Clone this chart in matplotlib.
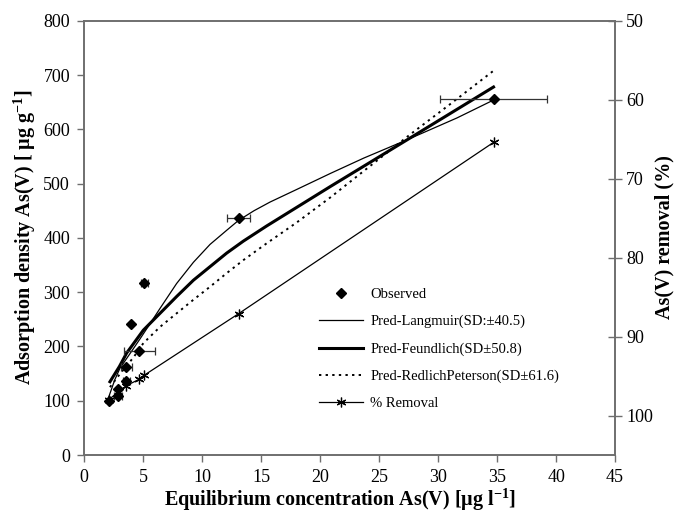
"""
Adsorption isotherm of As(V): observed data, model predictions and % removal
"""

import matplotlib
matplotlib.use("Agg")
import numpy as np
import matplotlib.pyplot as plt
from matplotlib.lines import Line2D

# observed adsorption density with horizontal error bars
concObs = [2.1, 2.9, 2.9, 3.6, 3.6, 4.0, 4.7, 5.1, 13.1, 34.7]
qObs = [99, 109, 122, 137, 162, 241, 192, 316, 437, 655]
concErr = [0.0, 0.35, 0.0, 0.3, 0.5, 0.0, 1.3, 0.3, 1.0, 4.5]

# model curves
langX = [2.1, 2.6, 3.05, 4.0, 4.75, 5.6, 6.44, 7.85, 9.27, 10.68, 12.09, 13.08, 14.4,
         15.76, 18.0, 20.9, 23.7, 27.4, 31.6, 34.7]
langY = [107, 138, 160, 190, 214, 242, 270, 316, 355, 388, 414, 432, 450,
         466, 489, 519, 547, 581, 621, 654]

freuX = [2.2, 3.0, 3.62, 5.03, 6.44, 7.85, 9.27, 10.68, 12.09, 13.5, 15.48, 20.9, 27.4, 34.7]
freuY = [135, 163, 188, 230, 261, 292, 322, 347, 372, 394, 422, 495, 581, 678]

rpX = [2.2, 3.0, 4.2, 5.03, 6.44, 7.85, 9.27, 10.68, 12.09, 13.5, 15.48, 18.0, 20.9,
       23.4, 27.6, 31.0, 34.7]
rpY = [125, 148, 180, 206, 236, 261, 286, 310, 335, 359, 390, 428, 475,
       518, 590, 646, 708]

# percentage removal (right axis)
remX = [2.1, 2.9, 3.6, 4.7, 5.1, 13.1, 34.7]
remY = [98.0, 97.0, 96.2, 95.4, 94.9, 87.1, 65.4]

xTicks = [0, 5, 10, 15, 20, 25, 30, 35, 40, 45]
yTicks = [0, 100, 200, 300, 400, 500, 600, 700, 800]
y2Ticks = [50, 60, 70, 80, 90, 100]


def makePlot():
    plt.rcParams['font.family'] = ['Liberation Serif', 'DejaVu Serif']
    plt.rcParams['mathtext.fontset'] = 'custom'
    plt.rcParams['mathtext.rm'] = 'Liberation Serif'
    plt.rcParams['mathtext.bf'] = 'Liberation Serif:bold'

    fig = plt.figure(figsize=(6.74, 5.2), dpi=100)
    ax = fig.add_axes([0.1246, 0.125, 0.788, 0.835])
    ax2 = ax.twinx()

    frameCol = '#6e6e6e'

    # data and models
    ax.errorbar(concObs, qObs, xerr=concErr, fmt='D', color='black', ms=5,
                ecolor='#333333', elinewidth=0.9, capsize=3, capthick=0.9, zorder=5)
    lLang, = ax.plot(langX, langY, color='black', lw=0.9)
    lFreu, = ax.plot(freuX, freuY, color='black', lw=2.2)
    lRp, = ax.plot(rpX, rpY, color='black', lw=1.4, linestyle=(0, (1.2, 2.2)))
    lRem, = ax2.plot(remX, remY, color='black', lw=0.9, marker=(6, 2, 0), ms=7, mew=0.9)

    ax.set_xlim(0, 45)
    ax.set_ylim(0, 800)
    ax2.set_ylim(105, 50)

    ax.set_xticks(xTicks)
    ax.set_yticks(yTicks)
    ax2.set_yticks(y2Ticks)

    ax.tick_params(axis='both', direction='out', length=5, width=1,
                   color=frameCol, labelsize=13, pad=5)
    ax2.tick_params(axis='y', direction='inout', length=10, width=1,
                    color=frameCol, labelsize=13, pad=3)
    for a in (ax, ax2):
        for s in a.spines.values():
            s.set_color(frameCol)
            s.set_linewidth(1.2)

    fig.text(340 / 674, 1 - 500 / 520,
             'Equilibrium concentration As(V) [\u03bcg l$^{\\mathbf{-1}}$]',
             fontsize=14.5, fontweight='bold', ha='center', va='center')
    fig.text(25 / 674, 1 - 237 / 520,
             'Adsorption density As(V) [ \u03bcg g$^{\\mathbf{-1}}$]',
             fontsize=14.5, fontweight='bold', ha='center', va='center', rotation=90)
    fig.text(664 / 674, 1 - 237 / 520, 'As(V) removal (%)',
             fontsize=14.5, fontweight='bold', ha='center', va='center', rotation=90)

    # legend in the original order
    hObs = Line2D([], [], color='black', marker='D', ms=5, linestyle='none')
    handles = [hObs, lLang, lFreu, lRp, lRem]
    labels = ['Observed', 'Pred-Langmuir(SD:\u00b140.5)', 'Pred-Feundlich(SD\u00b150.8)',
              'Pred-RedlichPeterson(SD\u00b161.6)', '% Removal']
    ax2.legend(handles, labels, loc='upper left', bbox_to_anchor=(0.418, 0.415),
               frameon=False, fontsize=10.5, handlelength=3.0, handletextpad=0.5,
               labelspacing=0.95)

    fig.savefig('out.png', dpi=100)


if __name__ == "__main__":
    makePlot()
